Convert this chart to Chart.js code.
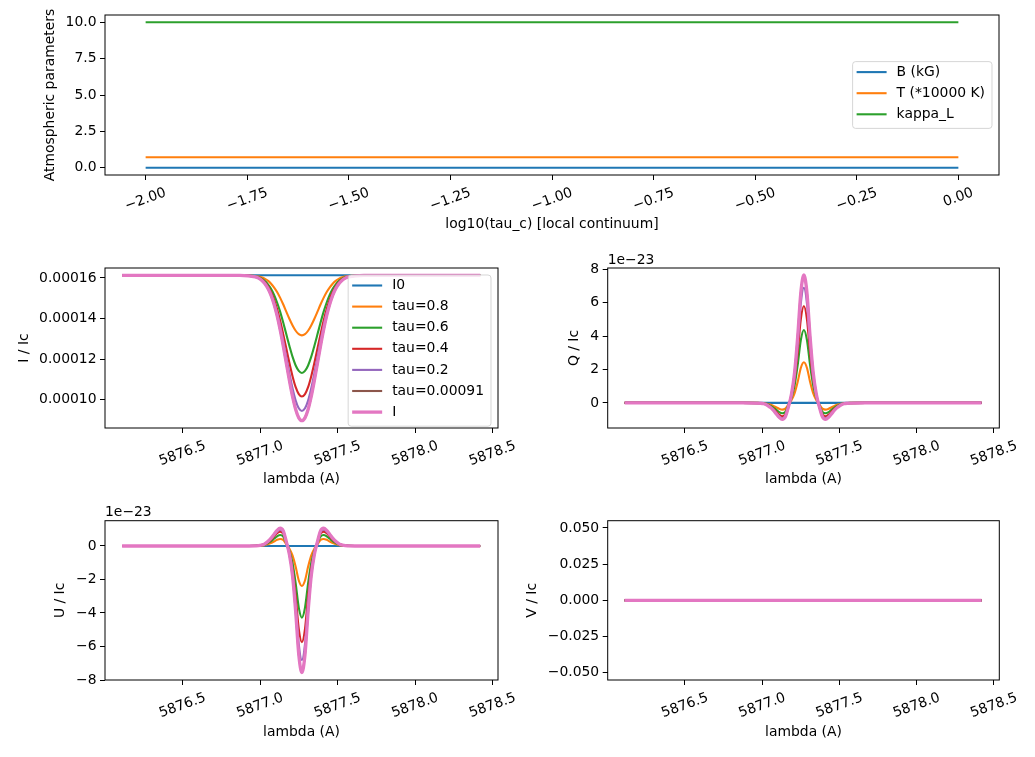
<!DOCTYPE html>
<html>
<head>
<meta charset="utf-8">
<script src="https://cdn.jsdelivr.net/npm/chart.js@4.4.1/dist/chart.umd.min.js"></script>
<style>
  body { margin: 0; background: #fff; }
  canvas { position: absolute; }
</style>
</head>
<body>
<canvas id="atm" width="1035" height="250" style="left:0px;top:0px"></canvas>
<canvas id="stokesQ" width="525" height="252" style="left:510px;top:248px"></canvas>
<canvas id="stokesV" width="525" height="257" style="left:510px;top:500px"></canvas>
<canvas id="stokesI" width="540" height="252" style="left:0px;top:248px"></canvas>
<canvas id="stokesU" width="540" height="257" style="left:0px;top:500px"></canvas>
<script>
// atmosphere panel
const logTau = [-2.0, 0.0];
const fieldB = [0, 0];
const tempT = [0.72, 0.72];
const kappaL = [10, 10];
const logTauTicks = [-2, -1.75, -1.5, -1.25, -1, -0.75, -0.5, -0.25, 0];
const atmTicks = [0, 2.5, 5, 7.5, 10];

// wavelength grid (A)
const lambda = [5876.11, 5876.87, 5876.97, 5876.99, 5877.01, 5877.03, 5877.05, 5877.07, 5877.09,
  5877.11, 5877.13, 5877.15, 5877.17, 5877.19, 5877.21, 5877.23, 5877.25, 5877.27, 5877.29,
  5877.31, 5877.33, 5877.35, 5877.37, 5877.39, 5877.41, 5877.43, 5877.45, 5877.47, 5877.49,
  5877.51, 5877.53, 5877.55, 5877.57, 5877.67, 5878.42];
const lambdaEnds = [5876.11, 5878.42];
const lambdaTicks = [5876.5, 5877, 5877.5, 5878, 5878.5];

const profileLabels = ['I0', 'tau=0.8', 'tau=0.6', 'tau=0.4', 'tau=0.2', 'tau=0.00091', 'I'];
const colors = ['#1f77b4', '#ff7f0e', '#2ca02c', '#d62728', '#9467bd', '#8c564b', '#e377c2'];

// Stokes I / Ic (units of 1e-4)
const iI0 = [1.613, 1.613];
const iTau08 = [1.613, 1.613, 1.610, 1.607, 1.603, 1.596, 1.587, 1.573, 1.554, 1.531, 1.502, 1.469, 1.433, 1.398, 1.366, 1.340, 1.323, 1.317,
  1.323, 1.340, 1.366, 1.398, 1.433, 1.469, 1.502, 1.531, 1.554, 1.573, 1.587, 1.596, 1.603, 1.607, 1.610, 1.613, 1.613];
const iTau06 = [1.613, 1.613, 1.608, 1.603, 1.597, 1.586, 1.570, 1.548, 1.518, 1.479, 1.433, 1.379, 1.321, 1.264, 1.211, 1.169, 1.142, 1.132,
  1.142, 1.169, 1.211, 1.264, 1.321, 1.379, 1.433, 1.479, 1.518, 1.548, 1.570, 1.586, 1.597, 1.603, 1.608, 1.613, 1.613];
const iTau04 = [1.613, 1.613, 1.606, 1.601, 1.593, 1.580, 1.560, 1.532, 1.495, 1.447, 1.389, 1.322, 1.251, 1.180, 1.115, 1.062, 1.028, 1.016,
  1.028, 1.062, 1.115, 1.180, 1.251, 1.322, 1.389, 1.447, 1.495, 1.532, 1.560, 1.580, 1.593, 1.601, 1.606, 1.613, 1.613];
const iTau02 = [1.613, 1.613, 1.606, 1.600, 1.590, 1.576, 1.554, 1.523, 1.481, 1.427, 1.362, 1.288, 1.208, 1.128, 1.055, 0.996, 0.958, 0.945,
  0.958, 0.996, 1.055, 1.128, 1.208, 1.288, 1.362, 1.427, 1.481, 1.523, 1.554, 1.576, 1.590, 1.600, 1.606, 1.613, 1.613];
const iTauSurf = [1.613, 1.613, 1.605, 1.599, 1.589, 1.573, 1.549, 1.516, 1.471, 1.414, 1.344, 1.264, 1.178, 1.093, 1.015, 0.952, 0.911, 0.898,
  0.911, 0.952, 1.015, 1.093, 1.178, 1.264, 1.344, 1.414, 1.471, 1.516, 1.549, 1.573, 1.589, 1.599, 1.605, 1.613, 1.613];
const iOut = [1.613, 1.613, 1.605, 1.599, 1.589, 1.573, 1.549, 1.516, 1.471, 1.414, 1.344, 1.264, 1.178, 1.093, 1.015, 0.952, 0.911, 0.897,
  0.911, 0.952, 1.015, 1.093, 1.178, 1.264, 1.344, 1.414, 1.471, 1.516, 1.549, 1.573, 1.589, 1.599, 1.605, 1.613, 1.613];
const iTicks = [1.0, 1.2, 1.4, 1.6];

// Stokes Q / Ic (units of 1e-23)
const qI0 = [0, 0];
const qTau08 = [0, 0, 0, -0.01, -0.02, -0.05, -0.10, -0.17, -0.26, -0.35, -0.40, -0.34, -0.09, 0.17, 0.58, 1.26, 2.09, 2.43,
  2.09, 1.26, 0.58, 0.17, -0.09, -0.34, -0.40, -0.35, -0.26, -0.17, -0.10, -0.05, -0.02, -0.01, 0, 0, 0];
const qTau06 = [0, 0, 0, -0.01, -0.03, -0.07, -0.16, -0.26, -0.40, -0.55, -0.62, -0.53, -0.14, 0.31, 1.05, 2.27, 3.75, 4.36,
  3.75, 2.27, 1.05, 0.31, -0.14, -0.53, -0.62, -0.55, -0.40, -0.26, -0.16, -0.07, -0.03, -0.01, 0, 0, 0];
const qTau04 = [0, 0, -0.01, -0.02, -0.04, -0.10, -0.20, -0.34, -0.52, -0.70, -0.80, -0.68, -0.18, 0.41, 1.39, 3.02, 4.99, 5.80,
  4.99, 3.02, 1.39, 0.41, -0.18, -0.68, -0.80, -0.70, -0.52, -0.34, -0.20, -0.10, -0.04, -0.02, -0.01, 0, 0];
const qTau02 = [0, 0, -0.01, -0.02, -0.05, -0.11, -0.23, -0.39, -0.60, -0.81, -0.92, -0.78, -0.21, 0.48, 1.65, 3.58, 5.93, 6.89,
  5.93, 3.58, 1.65, 0.48, -0.21, -0.78, -0.92, -0.81, -0.60, -0.39, -0.23, -0.11, -0.05, -0.02, -0.01, 0, 0];
const qTauSurf = [0, 0, -0.01, -0.02, -0.05, -0.12, -0.24, -0.41, -0.63, -0.85, -0.97, -0.82, -0.22, 0.53, 1.82, 3.95, 6.54, 7.60,
  6.54, 3.95, 1.82, 0.53, -0.22, -0.82, -0.97, -0.85, -0.63, -0.41, -0.24, -0.12, -0.05, -0.02, -0.01, 0, 0];
const qOut = [0, 0, -0.01, -0.02, -0.05, -0.12, -0.25, -0.41, -0.64, -0.86, -0.98, -0.83, -0.23, 0.54, 1.84, 3.98, 6.58, 7.65,
  6.58, 3.98, 1.84, 0.54, -0.23, -0.83, -0.98, -0.86, -0.64, -0.41, -0.25, -0.12, -0.05, -0.02, -0.01, 0, 0];
const qTicks = [0, 2, 4, 6, 8];

// Stokes U / Ic (units of 1e-23)
const uI0 = [0, 0];
const uTau08 = [0, 0, 0, 0.01, 0.02, 0.05, 0.11, 0.18, 0.27, 0.37, 0.42, 0.36, 0.10, -0.17, -0.57, -1.24, -2.06, -2.39,
  -2.06, -1.24, -0.57, -0.17, 0.10, 0.36, 0.42, 0.37, 0.27, 0.18, 0.11, 0.05, 0.02, 0.01, 0, 0, 0];
const uTau06 = [0, 0, 0.01, 0.02, 0.04, 0.08, 0.17, 0.28, 0.43, 0.58, 0.66, 0.56, 0.15, -0.30, -1.03, -2.23, -3.68, -4.28,
  -3.68, -2.23, -1.03, -0.30, 0.15, 0.56, 0.66, 0.58, 0.43, 0.28, 0.17, 0.08, 0.04, 0.02, 0.01, 0, 0];
const uTau04 = [0, 0, 0.01, 0.02, 0.05, 0.10, 0.22, 0.36, 0.56, 0.76, 0.86, 0.73, 0.20, -0.40, -1.38, -2.99, -4.95, -5.75,
  -4.95, -2.99, -1.38, -0.40, 0.20, 0.73, 0.86, 0.76, 0.56, 0.36, 0.22, 0.10, 0.05, 0.02, 0.01, 0, 0];
const uTau02 = [0, 0, 0.01, 0.02, 0.05, 0.12, 0.24, 0.41, 0.63, 0.85, 0.97, 0.82, 0.22, -0.48, -1.63, -3.54, -5.86, -6.81,
  -5.86, -3.54, -1.63, -0.48, 0.22, 0.82, 0.97, 0.85, 0.63, 0.41, 0.24, 0.12, 0.05, 0.02, 0.01, 0, 0];
const uTauSurf = [0, 0, 0.01, 0.02, 0.06, 0.12, 0.26, 0.43, 0.67, 0.91, 1.03, 0.88, 0.24, -0.53, -1.80, -3.90, -6.45, -7.50,
  -6.45, -3.90, -1.80, -0.53, 0.24, 0.88, 1.03, 0.91, 0.67, 0.43, 0.26, 0.12, 0.06, 0.02, 0.01, 0, 0];
const uOut = [0, 0, 0.01, 0.02, 0.06, 0.13, 0.27, 0.45, 0.69, 0.93, 1.06, 0.90, 0.24, -0.53, -1.81, -3.93, -6.50, -7.56,
  -6.50, -3.93, -1.81, -0.53, 0.24, 0.90, 1.06, 0.93, 0.69, 0.45, 0.27, 0.13, 0.06, 0.02, 0.01, 0, 0];
const uTicks = [-8, -6, -4, -2, 0];

// Stokes V / Ic is zero everywhere
const vZero = [0, 0];
const vTicks = [-0.05, -0.025, 0, 0.025, 0.05];


const FONT = '13.9px "DejaVu Sans"';
Chart.defaults.font.family = '"DejaVu Sans"';
Chart.defaults.font.size = 13.9;
Chart.defaults.color = '#000';

const pts = (xs, ys) => xs.map((x, i) => ({ x: x, y: ys[i] }));
const minus = s => s.replace('-', '\u2212');

function roundBox(ctx, x, y, w, h, r) {
    ctx.beginPath();
    ctx.moveTo(x + r, y);
    ctx.arcTo(x + w, y, x + w, y + h, r);
    ctx.arcTo(x + w, y + h, x, y + h, r);
    ctx.arcTo(x, y + h, x, y, r);
    ctx.arcTo(x, y, x + w, y, r);
    ctx.closePath();
}

// matplotlib look: closed frame, centred rotated x labels, offset text, boxed legend
const mplPlugin = {
    id: 'mpl',
    afterDatasetsDraw(chart) {
        const { ctx, chartArea: a } = chart;
        ctx.save();
        ctx.strokeStyle = '#000';
        ctx.lineWidth = 1;
        ctx.strokeRect(a.left, a.top, a.right - a.left, a.bottom - a.top);
        ctx.restore();
    },
    afterDraw(chart, args, opts) {
        const { ctx, chartArea: a } = chart;
        const xs = chart.scales.x;
        const ang = 20 * Math.PI / 180;
        ctx.save();
        ctx.font = FONT;
        ctx.fillStyle = '#000';

        for (const t of xs.ticks) {
            const w = ctx.measureText(t.label).width;
            const cy = a.bottom + 9.7 + (w * Math.sin(ang) + 16.2 * Math.cos(ang)) / 2;
            ctx.save();
            ctx.translate(xs.getPixelForValue(t.value), cy);
            ctx.rotate(-ang);
            ctx.textAlign = 'center';
            ctx.textBaseline = 'middle';
            ctx.fillText(t.label, 0, 0);
            ctx.restore();
        }

        if (opts.offsetText) {
            ctx.textAlign = 'left';
            ctx.textBaseline = 'alphabetic';
            ctx.fillText(opts.offsetText, a.left, a.top - 4.5);
        }

        if (opts.legendLoc) {
            const items = chart.data.datasets;
            const tw = Math.max(...items.map(d => ctx.measureText(d.label).width));
            const w = 44 + tw + 7;
            const h = items.length * 21.1 + 3.5;
            const x = a.right - 7 - w;
            const y = opts.legendLoc === 'upper right' ? a.top + 7 : (a.top + a.bottom) / 2 - h / 2;
            roundBox(ctx, x, y, w, h, 3);
            ctx.fillStyle = 'rgba(255,255,255,0.8)';
            ctx.fill();
            ctx.strokeStyle = 'rgba(204,204,204,0.8)';
            ctx.lineWidth = 1;
            ctx.stroke();
            items.forEach((d, i) => {
                const cy = y + 10.5 + i * 21.1;
                ctx.beginPath();
                ctx.moveTo(x + 4, cy);
                ctx.lineTo(x + 34, cy);
                ctx.strokeStyle = d.borderColor;
                ctx.lineWidth = d.borderWidth;
                ctx.stroke();
                ctx.fillStyle = '#000';
                ctx.textAlign = 'left';
                ctx.textBaseline = 'middle';
                ctx.fillText(d.label, x + 44, cy);
            });
        }
        ctx.restore();
    }
};

function makeChart(id, c) {
    const n = c.series.length;
    const datasets = c.series.map((s, i) => ({
        label: s.label,
        data: pts(s.xs, s.ys),
        borderColor: s.color,
        borderWidth: s.label === 'I' ? 3.3 : 2.1,
        pointRadius: 0,
        fill: false,
        tension: 0,
        cubicInterpolationMode: c.smooth ? 'monotone' : 'default',
        order: n - i
    }));
    const axisGrid = { drawOnChartArea: false, color: '#000', lineWidth: 1, tickLength: 5 };
    return new Chart(id, {
        type: 'line',
        data: { datasets: datasets },
        options: {
            responsive: false,
            animation: false,
            layout: { padding: c.pad },
            plugins: {
                legend: { display: false },
                tooltip: { enabled: false },
                mpl: { legendLoc: c.legendLoc || null, offsetText: c.offsetText || null }
            },
            scales: {
                x: {
                    type: 'linear',
                    min: c.xMin,
                    max: c.xMax,
                    afterBuildTicks: s => { s.ticks = c.xTicks.map(v => ({ value: v })); },
                    afterFit: s => { s.height = c.xHeight; },
                    ticks: { display: false, callback: c.xFmt },
                    grid: axisGrid,
                    border: { display: false },
                    title: { display: true, text: c.xTitle, color: '#000', padding: { top: 0, bottom: c.xTitlePad } }
                },
                y: {
                    type: 'linear',
                    min: c.yMin,
                    max: c.yMax,
                    afterBuildTicks: s => { s.ticks = c.yTicks.map(v => ({ value: v })); },
                    afterFit: s => { s.width = c.yWidth; },
                    ticks: { padding: 3.5, callback: c.yFmt },
                    grid: axisGrid,
                    border: { display: false },
                    title: { display: true, text: c.yTitle, color: '#000', padding: { top: c.yTitlePad, bottom: 0 } }
                }
            }
        },
        plugins: [mplPlugin]
    });
}

const lamFmt = v => v.toFixed(1);
const profileSeries = (sets) => sets.map((ys, i) => ({
    label: profileLabels[i],
    color: colors[i],
    xs: ys.length === 2 ? lambdaEnds : lambda,
    ys: ys
}));

makeChart('atm', {
    series: [
        { label: 'B (kG)', color: colors[0], xs: logTau, ys: fieldB },
        { label: 'T (*10000 K)', color: colors[1], xs: logTau, ys: tempT },
        { label: 'kappa_L', color: colors[2], xs: logTau, ys: kappaL }
    ],
    xMin: -2.1, xMax: 0.1, xTicks: logTauTicks, xFmt: v => minus(v.toFixed(2)),
    yMin: -0.5, yMax: 10.5, yTicks: atmTicks, yFmt: v => v.toFixed(1),
    xTitle: 'log10(tau_c) [local continuum]', yTitle: 'Atmospheric parameters',
    pad: { top: 15, right: 36, left: 0, bottom: 0 }, yWidth: 105, xHeight: 75,
    yTitlePad: 42.2, xTitlePad: 17.7, legendLoc: 'center right'
});

makeChart('stokesI', {
    series: profileSeries([iI0, iTau08, iTau06, iTau04, iTau02, iTauSurf, iOut]),
    smooth: true,
    xMin: 5876.0, xMax: 5878.535, xTicks: lambdaTicks, xFmt: lamFmt,
    yMin: 0.861, yMax: 1.649, yTicks: iTicks, yFmt: v => (v * 1e-4).toFixed(5),
    xTitle: 'lambda (A)', yTitle: 'I / Ic',
    pad: { top: 20, right: 42, left: 0, bottom: 0 }, yWidth: 105, xHeight: 72,
    yTitlePad: 15.7, xTitlePad: 12.7, legendLoc: 'upper right'
});

makeChart('stokesQ', {
    series: profileSeries([qI0, qTau08, qTau06, qTau04, qTau02, qTauSurf, qOut]),
    smooth: true,
    xMin: 5876.0, xMax: 5878.535, xTicks: lambdaTicks, xFmt: lamFmt,
    yMin: -1.5, yMax: 8.07, yTicks: qTicks, yFmt: v => minus(String(v)),
    xTitle: 'lambda (A)', yTitle: 'Q / Ic',
    pad: { top: 20, right: 35.7, left: 0, bottom: 0 }, yWidth: 97.7, xHeight: 72,
    yTitlePad: 56.2, xTitlePad: 12.7, offsetText: '1e\u221223'
});

makeChart('stokesU', {
    series: profileSeries([uI0, uTau08, uTau06, uTau04, uTau02, uTauSurf, uOut]),
    smooth: true,
    xMin: 5876.0, xMax: 5878.535, xTicks: lambdaTicks, xFmt: lamFmt,
    yMin: -8.0, yMax: 1.51, yTicks: uTicks, yFmt: v => minus(String(v)),
    xTitle: 'lambda (A)', yTitle: 'U / Ic',
    pad: { top: 20.7, right: 42, left: 0, bottom: 0 }, yWidth: 105, xHeight: 77,
    yTitlePad: 52, xTitlePad: 16.2, offsetText: '1e\u221223'
});

makeChart('stokesV', {
    series: profileSeries([vZero, vZero, vZero, vZero, vZero, vZero, vZero]),
    xMin: 5876.0, xMax: 5878.535, xTicks: lambdaTicks, xFmt: lamFmt,
    yMin: -0.055, yMax: 0.055, yTicks: vTicks, yFmt: v => minus(v.toFixed(3)),
    xTitle: 'lambda (A)', yTitle: 'V / Ic',
    pad: { top: 20.7, right: 35.7, left: 0, bottom: 0 }, yWidth: 97.7, xHeight: 77,
    yTitlePad: 14.2, xTitlePad: 16.2
});
</script>
</body>
</html>
